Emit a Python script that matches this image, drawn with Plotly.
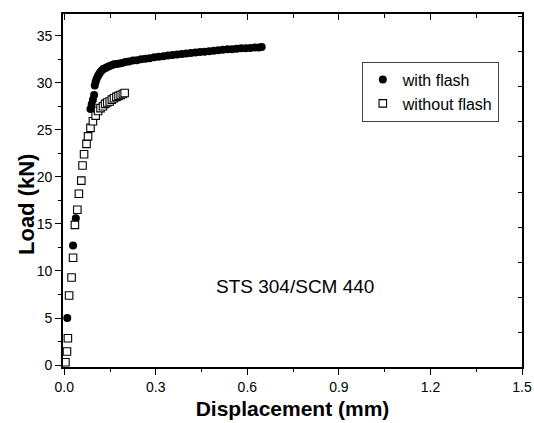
import plotly.graph_objects as go

# Data
flash_x = [0.010, 0.029, 0.038, 0.086, 0.090, 0.094, 0.098, 0.100, 0.103, 0.106, 0.110, 0.114, 0.118,
           0.123, 0.128, 0.134, 0.140, 0.147, 0.155, 0.163, 0.172, 0.181, 0.190, 0.200, 0.212, 0.225,
           0.238, 0.252, 0.266, 0.280, 0.295, 0.310, 0.325, 0.340, 0.355, 0.370, 0.385, 0.400, 0.415,
           0.430, 0.445, 0.460, 0.475, 0.490, 0.505, 0.520, 0.535, 0.550, 0.565, 0.580, 0.595, 0.610,
           0.625, 0.638, 0.647]
flash_y = [5.0, 12.7, 15.6, 27.2, 27.7, 28.2, 28.7, 29.7, 30.1, 30.4, 30.7, 30.9, 31.1,
           31.3, 31.45, 31.55, 31.65, 31.75, 31.85, 31.95, 32.0, 32.05, 32.1, 32.2, 32.25, 32.35,
           32.4, 32.5, 32.55, 32.6, 32.7, 32.75, 32.8, 32.9, 32.95, 33.0, 33.05, 33.1, 33.15,
           33.2, 33.25, 33.3, 33.35, 33.4, 33.45, 33.5, 33.55, 33.55, 33.6, 33.65, 33.65, 33.7,
           33.75, 33.75, 33.8]

noflash_x = [0.004, 0.009, 0.012, 0.016, 0.024, 0.029, 0.035, 0.043, 0.048, 0.056, 0.060, 0.065,
             0.073, 0.078, 0.086, 0.094, 0.103, 0.111, 0.119, 0.127, 0.134, 0.141, 0.149, 0.156,
             0.163, 0.171, 0.178, 0.185, 0.192, 0.198]
noflash_y = [0.3, 1.45, 2.85, 7.4, 9.3, 11.4, 14.9, 16.5, 18.2, 19.6, 21.2, 22.4,
             23.5, 24.3, 25.2, 25.9, 26.5, 27.0, 27.3, 27.5, 27.75, 27.9, 28.0, 28.2,
             28.35, 28.5, 28.6, 28.7, 28.8, 28.9]

series_names = ["with flash", "without flash"]
x_title = "Displacement (mm)"
y_title = "Load (kN)"
note_text = "STS 304/SCM 440"

FONT = "Liberation Sans, Arial, Helvetica, sans-serif"

fig = go.Figure()
fig.add_trace(go.Scatter(
    x=flash_x, y=flash_y, mode="markers", name=series_names[0],
    marker=dict(symbol="circle", size=8, color="black", line=dict(width=0)),
))
fig.add_trace(go.Scatter(
    x=noflash_x, y=noflash_y, mode="markers", name=series_names[1],
    marker=dict(symbol="square", size=7.5, color="white", line=dict(width=1.1, color="black")),
))
# empty trace to activate the mirrored top/right axes
fig.add_trace(go.Scatter(x=[], y=[], xaxis="x2", yaxis="y2", showlegend=False, hoverinfo="skip"))

fig.update_layout(
    width=534, height=423,
    margin=dict(l=63, r=12, t=14, b=56),
    paper_bgcolor="white", plot_bgcolor="white",
    font=dict(family=FONT, color="black", size=14),
    showlegend=True,
    legend=dict(
        x=0.651, y=0.865, xanchor="left", yanchor="top",
        bgcolor="white", bordercolor="#444", borderwidth=1,
        font=dict(family=FONT, size=16, color="black"),
        tracegroupgap=0,
    ),
    xaxis=dict(
        range=[-0.004, 1.5], tickmode="linear", tick0=0, dtick=0.3, tickformat=".1f",
        ticks="outside", ticklen=6, tickwidth=1.3, tickcolor="black",
        minor=dict(dtick=0.15, ticks="outside", ticklen=3, tickwidth=1.2, tickcolor="black"),
        showline=True, linecolor="black", linewidth=1.6, mirror=False,
        showgrid=False, zeroline=False, automargin=False,
        tickfont=dict(family=FONT, size=14, color="black"),
        title=dict(text="<b>" + x_title + "</b>", font=dict(family=FONT, size=21, color="black"), standoff=8),
    ),
    yaxis=dict(
        range=[-0.2, 37.3], tickmode="linear", tick0=0, dtick=5,
        ticks="outside", ticklen=6, tickwidth=1.3, tickcolor="black",
        minor=dict(dtick=2.5, ticks="outside", ticklen=3, tickwidth=1.2, tickcolor="black"),
        showline=True, linecolor="black", linewidth=1.6, mirror=False,
        showgrid=False, zeroline=False, automargin=False,
        tickfont=dict(family=FONT, size=14, color="black"),
    ),
    xaxis2=dict(
        overlaying="x", side="top", range=[-0.004, 1.5], tickmode="linear", tick0=0, dtick=0.3,
        ticks="inside", ticklen=6, tickwidth=1.3, tickcolor="black",
        minor=dict(dtick=0.15, ticks="inside", ticklen=4, tickwidth=1.2, tickcolor="black"),
        showticklabels=False, showline=True, linecolor="black", linewidth=1.6,
        showgrid=False, zeroline=False, automargin=False,
    ),
    yaxis2=dict(
        overlaying="y", side="right", range=[-0.977, 9.063], tickmode="linear", tick0=0, dtick=1,
        ticks="inside", ticklen=4, tickwidth=1.2, tickcolor="black",
        showticklabels=False, showline=True, linecolor="black", linewidth=1.6,
        showgrid=False, zeroline=False, automargin=False,
    ),
    annotations=[
        dict(
            text=note_text, x=0.506, y=0.228, xref="paper", yref="paper",
            xanchor="center", yanchor="middle", showarrow=False,
            font=dict(family=FONT, size=19, color="black"),
        ),
        dict(
            text="<b>" + y_title + "</b>", x=-0.0798, y=0.46, xref="paper", yref="paper",
            xanchor="center", yanchor="middle", showarrow=False, textangle=-90,
            font=dict(family=FONT, size=22, color="black"),
        ),
    ],
)

fig.write_html("out.html")
